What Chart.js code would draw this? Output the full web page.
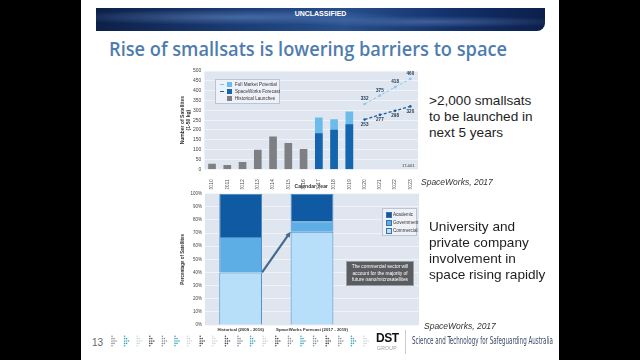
<!DOCTYPE html>
<html><head><meta charset="utf-8">
<script src="https://cdn.jsdelivr.net/npm/chart.js@4.4.1/dist/chart.umd.min.js"></script>
<style>
html,body{margin:0;padding:0;background:#000;width:640px;height:360px;overflow:hidden;font-family:"Liberation Sans",Arial,sans-serif}
.abs{position:absolute}
#slide{left:81px;top:0;width:478px;height:360px;background:#fff}
#band{left:96px;top:8px;width:449px;height:23px;border-radius:0 0 8px 0;
 background:radial-gradient(ellipse at 30% 40%,rgba(120,160,220,.45),rgba(0,0,0,0) 40%),radial-gradient(ellipse at 75% 60%,rgba(140,170,220,.35),rgba(0,0,0,0) 30%),linear-gradient(90deg,#0c2048 0%,#1d3f78 35%,#274f8c 55%,#12306a 80%,#0b1f4a 100%)}
#uncl{left:96px;top:10px;width:449px;text-align:center;color:#fff;font:bold 7px "Liberation Sans",Arial,sans-serif}
#title{left:109px;top:35px;white-space:nowrap;color:#4f7cae;font:600 20px "Open Sans",sans-serif;transform-origin:0 0}
.rt{color:#1e1e1e;font-size:13.6px;line-height:16px;white-space:nowrap}
.cite{color:#333;font-style:italic;font-size:8.5px;white-space:nowrap}
.leg{background:#eef2f8;border:1px solid #b9c5d6;font-size:4.6px;color:#333}
.leg div{position:absolute;white-space:nowrap}
.sw{position:absolute;width:5px;height:5px}
#note{left:346px;top:261px;width:68px;height:25px;background:#5a5c60;border:1px solid #9a9ea5;color:#fff;font-size:4.8px;line-height:6.5px;text-align:center;padding-top:2px;box-sizing:border-box}
#tag{left:412px;top:335px;color:#3b4a66;font:10px "Liberation Sans Narrow","DejaVu Sans Condensed",sans-serif;white-space:nowrap;transform-origin:0 0}
</style></head><body>
<div id="slide" class="abs"></div>
<div id="band" class="abs"></div>
<div id="uncl" class="abs">UNCLASSIFIED</div>
<div id="title" class="abs">Rise of smallsats is lowering barriers to space</div>

<canvas id="c1" class="abs" width="242" height="128" style="left:180px;top:62px"></canvas>
<canvas id="c2" class="abs" width="242" height="146" style="left:180px;top:188px"></canvas>

<div class="abs leg" style="left:215px;top:79px;width:63px;height:23px">
  <div style="left:4px;top:4px;width:4px;border-top:1px dashed #7cc4ef"></div><span class="sw" style="left:11px;top:2px;background:#6dbbea"></span><div style="left:19px;top:2px">Full Market Potential</div>
  <div style="left:4px;top:11px;width:4px;border-top:1px dashed #1a5ea6"></div><span class="sw" style="left:11px;top:9px;background:#1565ae"></span><div style="left:19px;top:9px">SpaceWorks Forecast</div>
  <span class="sw" style="left:11px;top:16px;background:#7d7f82"></span><div style="left:19px;top:16px">Historical Launches</div>
</div>
<div class="abs" style="left:402px;top:163px;font-size:4px;color:#333">17-001</div>

<div class="abs leg" style="left:382px;top:208px;width:33px;height:26px">
  <span class="sw" style="left:3px;top:3px;width:4px;height:4px;background:#0f5aa3;border:.5px solid #3b6fa8"></span><div style="left:10px;top:3px">Academic</div>
  <span class="sw" style="left:3px;top:11px;width:4px;height:4px;background:#5eaee6;border:.5px solid #3b6fa8"></span><div style="left:10px;top:11px">Government</div>
  <span class="sw" style="left:3px;top:19px;width:4px;height:4px;background:#b7dffa;border:.5px solid #3b6fa8"></span><div style="left:10px;top:19px">Commercial</div>
</div>
<div id="note" class="abs">The commercial sector will<br>account for the majority of<br>future nano/microsatellites</div>

<div class="abs rt" style="left:429px;top:93px">&gt;2,000 smallsats<br>to be launched in<br>next 5 years</div>
<div class="abs cite" style="left:421px;top:177px">SpaceWorks, 2017</div>
<div class="abs rt" style="left:429px;top:219px">University and<br>private company<br>involvement in<br>space rising rapidly</div>
<div class="abs cite" style="left:424px;top:321px">SpaceWorks, 2017</div>

<div class="abs" style="left:92px;top:337px;font-size:10px;color:#666">13</div>
<svg class="abs" id="dots" style="left:108px;top:334px" width="265" height="14"></svg>
<div class="abs" style="left:376px;top:331px;font:bold 12px 'Liberation Sans',Arial,sans-serif;color:#111;letter-spacing:-0.5px">DST</div>
<div class="abs" style="left:377px;top:345px;font-size:5px;color:#999;letter-spacing:.3px">GROUP</div>
<div class="abs" style="left:405px;top:330px;width:1px;height:24px;background:#ccc"></div>
<div id="tag" class="abs">Science and Technology for Safeguarding Australia</div>

<script>
// ---- data: top chart ----
const years = ['2010','2011','2012','2013','2014','2015','2016','2017','2018','2019','2020','2021','2022','2023'];
const historicalLaunches = [27,20,35,98,165,132,101,null,null,null,null,null,null,null];
const forecastBars       = [null,null,null,null,null,null,null,182,199,228,null,null,null,null];
const fullMarketBars     = [null,null,null,null,null,null,null,262,253,292,null,null,null,null];
const fullMarketLine     = [null,null,null,null,null,null,null,null,null,null,332,375,418,460];
const forecastLine       = [null,null,null,null,null,null,null,null,null,null,253,277,298,320];
// ---- data: bottom chart ----
const periods    = ['Historical (2009 - 2016)','SpaceWorks Forecast (2017 - 2019)',''];
const commercial = [40,71,null];
const government = [27,8,null];
const academic   = [33,21,null];

Chart.defaults.font.family = '"Liberation Sans", Arial, sans-serif';
Chart.defaults.animation = false;

const plotBg = {id:'plotBg', beforeDraw(c){const {ctx,chartArea:a}=c;ctx.save();ctx.fillStyle='#dfe6f0';ctx.fillRect(a.left,a.top,a.right-a.left,a.bottom-a.top);ctx.restore();}};

const pointLabels = {id:'pointLabels', afterDatasetsDraw(c){
  const ctx=c.ctx; ctx.save(); ctx.font='bold 4.6px "Liberation Sans",Arial'; ctx.fillStyle='#1f3550'; ctx.textAlign='center';
  c.data.datasets.forEach((ds,i)=>{ if(!ds.labelPos) return; const m=c.getDatasetMeta(i);
    m.data.forEach((p,j)=>{ const v=ds.data[j]; if(v==null) return;
      if(ds.labelPos==='above'){ctx.textBaseline='bottom';ctx.fillText(String(v),p.x,p.y-3);} else {ctx.textBaseline='top';ctx.fillText(String(v),p.x,p.y+3);} });
  }); ctx.restore(); }};

new Chart(document.getElementById('c1'), {
  type:'bar',
  data:{labels:years, datasets:[
    {type:'line',label:'Full Market Potential',data:fullMarketLine,borderColor:'#86c8f0',backgroundColor:'#86c8f0',borderWidth:1,borderDash:[3,2],pointRadius:1.3,pointBorderWidth:0,labelPos:'above'},
    {type:'line',label:'SpaceWorks Forecast',data:forecastLine,borderColor:'#1a5ea6',backgroundColor:'#1a5ea6',borderWidth:1.3,borderDash:[3,2],pointRadius:1.3,pointBorderWidth:0,labelPos:'below'},
    {label:'SpaceWorks Forecast',data:forecastBars,backgroundColor:'#1565ae',grouped:false,barThickness:7},
    {label:'Full Market Potential',data:fullMarketBars,backgroundColor:'#6dbbea',grouped:false,barThickness:7},
    {label:'Historical Launches',data:historicalLaunches,backgroundColor:'#7d7f82',grouped:false,barThickness:7}
  ]},
  options:{responsive:false,animation:false,
    layout:{padding:{top:9,right:3.4,bottom:0.7,left:0}},
    plugins:{legend:{display:false},tooltip:{enabled:false}},
    scales:{
      x:{grid:{display:false},border:{display:false},
         ticks:{font:{size:5},color:'#555',minRotation:90,maxRotation:90,autoSkip:false,padding:2},
         title:{display:true,text:'Calendar Year',font:{size:5,weight:'bold'},color:'#333',padding:0},
         afterFit(s){s.height=20;}},
      y:{min:0,max:500,ticks:{stepSize:50,font:{size:5},color:'#444',padding:3},
         grid:{color:'#f3f6fa',lineWidth:0.8,drawTicks:false},border:{display:false},
         title:{display:true,text:['Number of Satellites','(1-50 kg)'],font:{size:5,weight:'bold'},color:'#333',padding:0},
         afterFit(s){s.width=24.4;}}
    }},
  plugins:[plotBg,pointLabels]
});

const arrow = {id:'arrow', afterDatasetsDraw(c){
  const m=c.getDatasetMeta(0); const b1=m.data[0], b2=m.data[1]; if(!b1||!b2) return;
  const x1=b1.x+b1.width/2, y1=b1.y, x2=b2.x-b2.width/2, y2=b2.y;
  const ctx=c.ctx; ctx.save(); ctx.strokeStyle='#46698f'; ctx.fillStyle='#46698f'; ctx.lineWidth=2.2;
  const ang=Math.atan2(y2-y1,x2-x1), L=6;
  ctx.beginPath(); ctx.moveTo(x1,y1); ctx.lineTo(x2-Math.cos(ang)*L*0.8,y2-Math.sin(ang)*L*0.8); ctx.stroke();
  ctx.beginPath(); ctx.moveTo(x2,y2); ctx.lineTo(x2-L*Math.cos(ang-0.45),y2-L*Math.sin(ang-0.45)); ctx.lineTo(x2-L*Math.cos(ang+0.45),y2-L*Math.sin(ang+0.45)); ctx.closePath(); ctx.fill();
  ctx.restore(); }};

// category labels under the bottom chart, positioned by the library's x scale
const catLabels = {id:'catLabels', afterDraw(c){
  const xs=c.scales.x, a=c.chartArea, ctx=c.ctx; ctx.save();
  ctx.font='bold 4.3px "Liberation Sans",Arial'; ctx.fillStyle='#333'; ctx.textAlign='center'; ctx.textBaseline='top';
  c.data.labels.forEach((l,i)=>{ if(l) ctx.fillText(l, xs.getPixelForValue(i), a.bottom+2.5); });
  ctx.restore(); }};

new Chart(document.getElementById('c2'), {
  type:'bar',
  data:{labels:periods, datasets:[
    {label:'Commercial',data:commercial,backgroundColor:'#b7dffa',borderColor:'#4a88c6',borderWidth:1},
    {label:'Government',data:government,backgroundColor:'#5eaee6',borderColor:'#4a88c6',borderWidth:1},
    {label:'Academic',data:academic,backgroundColor:'#0f5aa3',borderColor:'#4a88c6',borderWidth:1}
  ]},
  options:{responsive:false,animation:false,
    datasets:{bar:{barPercentage:0.6,categoryPercentage:1}},
    layout:{padding:{top:4.7,right:3,bottom:0,left:0}},
    plugins:{legend:{display:false},tooltip:{enabled:false}},
    scales:{
      x:{stacked:true,grid:{display:false},border:{display:false},
         ticks:{display:false},
         afterFit(s){s.height=9;}},
      y:{stacked:true,min:0,max:100,ticks:{stepSize:10,callback:v=>v+'%',font:{size:4.5},color:'#444',padding:3},
         grid:{color:'#f3f6fa',lineWidth:0.8,drawTicks:false},border:{display:false},
         title:{display:true,text:'Percentage of Satellites',font:{size:4.5,weight:'bold'},color:'#333',padding:0},
         afterFit(s){s.width=25;}}
    }},
  plugins:[plotBg,arrow,catLabels]
});

// title fit
const t=document.getElementById('title'); const tw=t.getBoundingClientRect().width; t.style.transform='scaleX('+(398/tw)+')';
const g=document.getElementById('tag'); const gw=g.getBoundingClientRect().width; g.style.transform='scaleX('+(141/gw)+')';

// decorative footer dot arrows
const svg=document.getElementById('dots'); const cols=['#8a8f95','#3aa6b8','#cfd3d8','#4a4f57'];
const seq=[0,1,2,3,0,1,2,3,2,3,0,1,2,3,0,1,0,3,0,1,2];
let html='';
seq.forEach((ci,k)=>{const x0=4+k*12.6; const col=cols[ci];
  [[0,5],[2,3],[4,1]].forEach(([dx,n])=>{for(let r=0;r<n;r++){const y=7+(r-(n-1)/2)*2.4; html+=`<circle cx="${x0+dx}" cy="${y}" r="0.8" fill="${col}"/>`;}});});
svg.innerHTML=html;
</script>
</body></html>
